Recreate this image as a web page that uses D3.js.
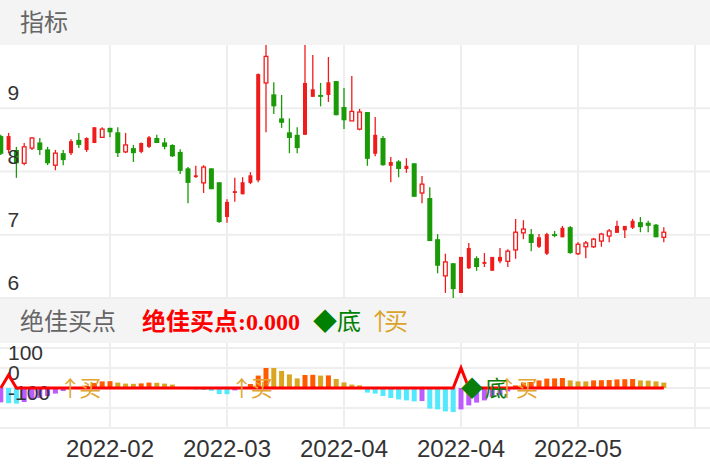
<!DOCTYPE html>
<html><head><meta charset="utf-8">
<script src="https://cdn.jsdelivr.net/npm/d3@7"></script>
<style>body{margin:0;background:#fff}svg{display:block}</style>
</head><body>
<svg id="c" width="710" height="472"></svg>
<script>
// ---------- data ----------
const dates = [
"2022-01-25","2022-01-26","2022-01-27","2022-01-28",
"2022-02-07","2022-02-08","2022-02-09","2022-02-10","2022-02-11","2022-02-14","2022-02-15","2022-02-16",
"2022-02-17","2022-02-18","2022-02-21","2022-02-22","2022-02-23","2022-02-24","2022-02-25","2022-02-28",
"2022-03-01","2022-03-02","2022-03-03","2022-03-04","2022-03-07","2022-03-08","2022-03-09","2022-03-10",
"2022-03-11","2022-03-14","2022-03-15","2022-03-16","2022-03-17","2022-03-18","2022-03-21","2022-03-22",
"2022-03-23","2022-03-24","2022-03-25","2022-03-28","2022-03-29","2022-03-30","2022-03-31",
"2022-04-01","2022-04-06","2022-04-07","2022-04-08","2022-04-11","2022-04-12","2022-04-13","2022-04-14",
"2022-04-15","2022-04-18","2022-04-19","2022-04-20","2022-04-21","2022-04-22","2022-04-25","2022-04-26",
"2022-04-27","2022-04-28","2022-04-29",
"2022-05-05","2022-05-06","2022-05-09","2022-05-10","2022-05-11","2022-05-12","2022-05-13","2022-05-16",
"2022-05-17","2022-05-18","2022-05-19","2022-05-20","2022-05-23","2022-05-24","2022-05-25","2022-05-26",
"2022-05-27","2022-05-30","2022-05-31",
"2022-06-01","2022-06-02","2022-06-06","2022-06-07","2022-06-08"];

const open = [8.56,8.34,8.34,8.13,8.37,8.46,8.35,8.10,8.29,8.29,
8.50,8.34,8.45,8.54,8.69,8.62,8.31,8.37,8.31,8.39,
8.53,8.46,8.42,8.31,8.05,7.91,7.82,8.05,7.83,7.28,
7.66,7.64,7.82,7.86,9.40,9.22,8.84,8.62,8.58,8.58,
9.18,9.21,9.21,9.43,9.02,8.80,8.67,8.94,8.28,8.53,
8.09,8.16,8.04,8.13,7.66,7.58,6.93,6.35,6.55,6.08,
6.47,6.63,6.54,6.43,6.58,6.58,6.76,7.03,7.01,6.81,
6.70,7.01,6.96,7.12,6.70,6.81,6.81,6.90,6.98,7.03,
7.07,7.11,7.20,7.19,7.16,6.96];
const high = [8.58,8.61,8.39,8.45,8.54,8.53,8.39,8.34,8.34,8.51,
8.61,8.54,8.70,8.70,8.69,8.70,8.61,8.42,8.46,8.56,
8.58,8.53,8.43,8.35,8.07,8.09,8.10,8.05,7.83,7.56,
7.90,7.91,7.99,9.55,10.01,9.41,9.21,8.84,8.70,10.03,
9.84,9.40,9.81,9.43,9.32,9.51,8.99,8.94,8.86,8.56,
8.23,8.18,8.21,8.13,7.93,7.75,7.01,6.70,6.55,6.65,
6.87,6.66,6.71,6.65,6.79,6.77,7.25,7.23,7.09,7.01,
7.03,7.06,7.14,7.14,6.88,6.90,6.95,7.03,7.09,7.22,
7.14,7.25,7.28,7.22,7.17,7.12];
const low = [8.26,8.29,7.90,8.10,8.34,8.26,8.10,8.02,8.10,8.26,
8.37,8.31,8.45,8.53,8.54,8.23,8.29,8.15,8.29,8.37,
8.45,8.35,8.23,7.96,7.50,7.90,7.66,7.72,7.19,7.19,
7.52,7.64,7.80,7.83,8.62,8.91,8.69,8.29,8.29,8.58,
9.18,9.03,9.10,8.89,8.67,8.80,8.65,8.09,8.24,8.09,
7.83,7.91,7.98,7.60,7.50,6.90,6.39,6.08,6.00,6.08,
6.46,6.43,6.49,6.43,6.55,6.49,6.62,6.93,6.74,6.79,
6.68,6.96,6.96,6.70,6.68,6.63,6.79,6.81,6.88,7.03,
6.95,7.09,7.04,7.04,6.96,6.88];
const close = [8.28,8.56,8.13,8.39,8.53,8.34,8.13,8.29,8.18,8.48,
8.42,8.53,8.70,8.67,8.62,8.29,8.42,8.29,8.45,8.54,
8.45,8.39,8.24,8.01,7.82,7.94,8.07,7.72,7.20,7.52,
7.69,7.83,7.94,9.54,9.82,9.03,8.77,8.53,8.37,9.40,
9.30,9.18,9.41,8.89,8.81,8.95,8.94,8.20,8.58,8.10,
8.15,8.04,8.09,7.60,7.80,6.90,6.51,6.57,6.14,6.65,
6.79,6.49,6.57,6.65,6.65,6.74,7.04,7.09,6.87,6.96,
7.01,6.98,7.11,6.71,6.85,6.87,6.93,7.01,7.06,7.14,
7.14,7.22,7.12,7.14,6.96,7.04];
// up days drawn as solid red bars (the rest of the up days are hollow)
const solidUpDays = [1,9,11,12,18,19,25,29,30,31,32,33,39,40,42,48,50,52,59,60,62,63,64,69,70,72,79,80,81];

const priceTicks = [6,7,8,9];
const indicatorTicks = [-100,0,100];
const indicatorGrid = [-200,-100,0,100,200];
const labelIdx = [14,29,44,59,74];
const gridIdx = [14,29,44,59,74,89];

// 绝佳买点 histogram
const histogram = [-72,-76,-78,-70,-58,-50,-40,-28,-15,-5,
5,12,25,33,34,27,22,21,23,27,
26,22,17,-3,-6,-8,-10,-14,-30,-31,
-12,-5,20,62,100,100,85,68,48,65,
66,62,63,45,28,17,13,-23,-28,-40,
-50,-57,-62,-67,-65,-103,-107,-117,-120,-107,
-87,-73,-62,-45,-37,-17,13,27,30,38,
47,48,50,38,33,33,38,39,40,43,
44,45,38,37,33,27];
// 绝佳买点 signal line
const signalLine = [0,65,0,0,0,0,0,0,0,0,
0,0,0,0,0,0,0,0,0,0,
0,0,0,0,0,0,0,0,0,0,
0,0,0,0,0,0,0,0,0,0,
0,0,0,0,0,0,0,0,0,0,
0,0,0,0,0,0,0,0,0,100,
0,0,0,0,0,0,0,0,0,0,
0,0,0,0,0,0,0,0,0,0,
0,0,0,0,0,0];
const buyDays = [8,30,64];
const bottomDays = [59];

// ---------- drawing ----------
const W = 710;
const svg = d3.select('#c');
const x = d3.scaleLinear().domain([0,85]).range([0.8,663.8]);
const y = d3.scaleLinear().domain([6,10]).range([298,45]);
const y2 = d3.scaleLinear().domain([-200,200]).range([428,348]);
const RED = '#f01c1c', GREEN = '#1b9a08', GRID = '#eeeeee';
const CJK = '"Noto Sans CJK SC", sans-serif';
const SANS = '"Liberation Sans", Arial, sans-serif';
const BW = 5;
const idx = d3.range(dates.length);

svg.append('rect').attr('width',W).attr('height',472).attr('fill','#fff');

// grids
svg.append('g').selectAll('line').data(gridIdx).join('line')
  .attr('x1',d=>x(d)).attr('x2',d=>x(d)).attr('y1',45).attr('y2',428)
  .attr('stroke',GRID).attr('stroke-width',2);
svg.append('g').selectAll('line').data(priceTicks).join('line')
  .attr('x1',0).attr('x2',W).attr('y1',d=>y(d)).attr('y2',d=>y(d))
  .attr('stroke',GRID).attr('stroke-width',2);
svg.append('g').selectAll('line').data(indicatorGrid).join('line')
  .attr('x1',0).attr('x2',W).attr('y1',d=>y2(d)).attr('y2',d=>y2(d))
  .attr('stroke',GRID).attr('stroke-width',2);

// header bands
svg.append('rect').attr('x',0).attr('y',0).attr('width',W).attr('height',45).attr('fill','#f4f4f4');
svg.append('text').attr('x',20).attr('y',31).attr('font-family',CJK).attr('font-size',24)
  .attr('fill','#666').text('指标');

// candles
svg.append('clipPath').attr('id','mainclip').append('rect').attr('x',0).attr('y',45).attr('width',W).attr('height',254);
const cg = svg.append('g').attr('clip-path','url(#mainclip)');
const solid = new Set(solidUpDays);
idx.forEach(i=>{
  const up = close[i] >= open[i];
  const col = up ? RED : GREEN;
  const cx = x(i);
  const top = y(Math.max(open[i],close[i]));
  const bot = y(Math.min(open[i],close[i]));
  const hollow = up && !solid.has(i);
  if (hollow) {
    cg.append('line').attr('x1',cx).attr('x2',cx).attr('y1',y(high[i])).attr('y2',top)
      .attr('stroke',col).attr('stroke-width',1.3);
    cg.append('line').attr('x1',cx).attr('x2',cx).attr('y1',bot).attr('y2',y(low[i]))
      .attr('stroke',col).attr('stroke-width',1.3);
    cg.append('rect').attr('x',cx-BW/2+0.65).attr('y',top).attr('width',BW-1.3)
      .attr('height',Math.max(bot-top,1)).attr('fill','#fff').attr('stroke',col).attr('stroke-width',1.3);
  } else {
    cg.append('line').attr('x1',cx).attr('x2',cx).attr('y1',y(high[i])).attr('y2',y(low[i]))
      .attr('stroke',col).attr('stroke-width',1.3);
    const w = up ? BW-1 : BW;
    cg.append('rect').attr('x',cx-w/2).attr('y',top).attr('width',w)
      .attr('height',Math.max(bot-top,1.5)).attr('fill',col);
  }
});

// price labels
svg.append('g').selectAll('text').data(priceTicks).join('text')
  .attr('x',7.5).attr('y',d=>y(d)-8).attr('font-family',SANS).attr('font-size',21)
  .attr('fill','#333').text(d=>d);

// header 2
svg.append('rect').attr('x',0).attr('y',299).attr('width',W).attr('height',44).attr('fill','#f4f4f4');
svg.append('text').attr('x',20).attr('y',330).attr('font-family',CJK).attr('font-size',24)
  .attr('fill','#666').text('绝佳买点');
svg.append('text').attr('x',142).attr('y',330)
  .attr('font-family','"Liberation Serif", "Noto Sans CJK SC", serif').attr('font-weight','bold')
  .attr('font-size',24).attr('fill','#ff0000').text('绝佳买点:0.000');
svg.append('text').attr('x',313).attr('y',330).attr('font-family',CJK).attr('font-size',24)
  .attr('fill','#008000').text('◆底');
const hb = svg.append('text').attr('y',330).attr('font-family',CJK).attr('font-size',24).attr('fill','#dba32a');
hb.append('tspan').attr('x',368).text('↑');
hb.append('tspan').attr('x',384).text('买');

// histogram
svg.append('g').selectAll('rect').data(histogram).join('rect')
  .attr('x',(d,i)=>x(i)-2.5).attr('width',5)
  .attr('y',d=>Math.min(y2(d),y2(0))).attr('height',d=>Math.abs(y2(d)-y2(0)))
  .attr('fill',(d,i)=>{
    const p = i>0 ? histogram[i-1] : d;
    if (d >= 0) return d > p ? '#ff5a00' : '#daa520';
    return d < p ? '#52e9ff' : '#bc5cff';
  });

// indicator labels
svg.append('g').selectAll('text').data(indicatorTicks).join('text')
  .attr('x',8).attr('y',d=>y2(d)-8).attr('font-family',SANS).attr('font-size',21)
  .attr('fill','#333').text(d=>d);

// signal line
svg.append('path').datum(signalLine)
  .attr('d',d3.line().x((d,i)=>x(i)).y(d=>y2(d)))
  .attr('fill','none').attr('stroke','#ff0000').attr('stroke-width',3).attr('stroke-linejoin','miter');

// markers
buyDays.forEach(i=>{
  const t = svg.append('text').attr('y',396).attr('font-family',CJK).attr('font-size',22).attr('fill','#e0a630');
  t.append('tspan').attr('x',x(i)-4).text('↑');
  t.append('tspan').attr('x',x(i)+16).text('买');
});
bottomDays.forEach(i=>{
  const t = svg.append('text').attr('y',396).attr('font-family',CJK).attr('font-size',22).attr('fill','#0a7d0a');
  t.append('tspan').attr('x',x(i)).text('◆');
  t.append('tspan').attr('x',x(i)+24).text('底');
});

// x labels
svg.append('g').selectAll('text').data(labelIdx).join('text')
  .attr('x',d=>x(d)).attr('y',457).attr('text-anchor','middle')
  .attr('font-family',SANS).attr('font-size',24).attr('fill','#333')
  .text(d=>dates[d].slice(0,7));
</script>
</body></html>
